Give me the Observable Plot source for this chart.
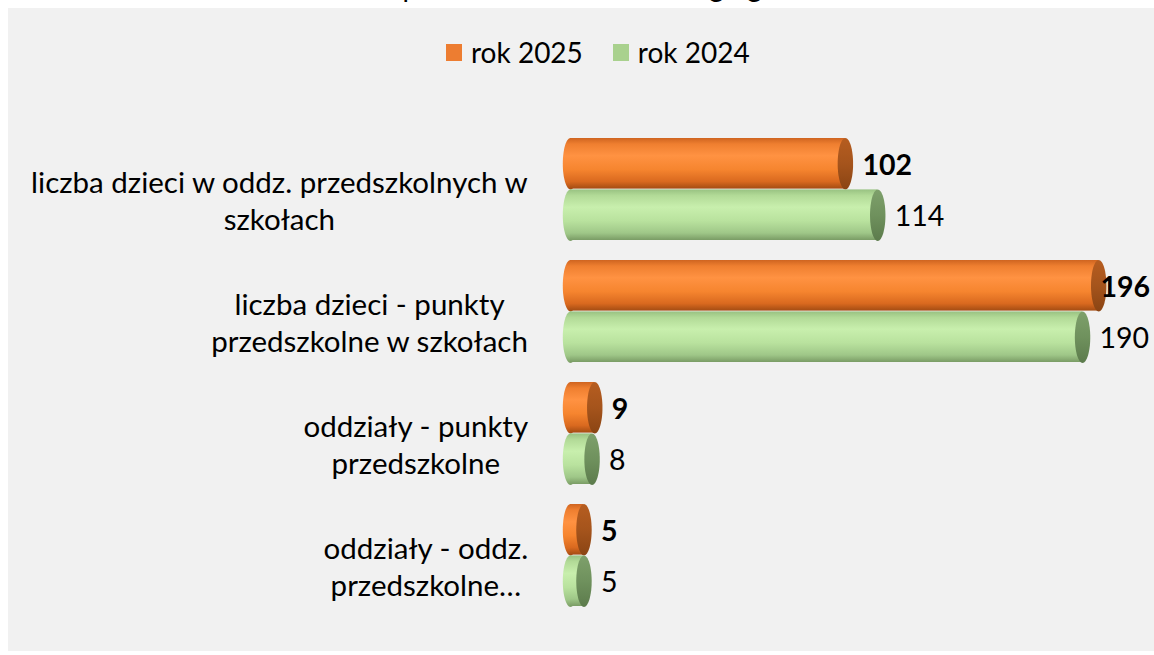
<!DOCTYPE html>
<html><head><meta charset="utf-8">
<script src="https://cdn.jsdelivr.net/npm/d3@7"></script>
<script src="https://cdn.jsdelivr.net/npm/@observablehq/plot@0.6"></script>
<style>
html,body{margin:0;padding:0;background:#fff;width:1154px;height:655px;overflow:hidden;font-family:Lato,sans-serif}
#wrap{position:relative;width:1154px;height:655px;overflow:hidden}
#panel{position:absolute;left:8px;top:8px;width:1146px;height:643px;background:#f1f1f1}
#title{position:absolute;left:0;width:1180px;top:-31px;text-align:center;font-size:28px;color:#000;white-space:nowrap}
#legend{position:absolute;top:35px;left:446px;display:flex;align-items:center;font-size:28px;color:#000}
#legend .sw{display:inline-block;width:16px;height:17px;margin-right:9px}
#legend .it{display:flex;align-items:center;margin-right:30px}
#chart{position:absolute;left:0;top:0}
</style></head>
<body>
<div id="wrap">
  <div id="panel"></div>
  <div id="title">porównanie do roku ubiegłego</div>
  <div id="legend"></div>
  <div id="chart"></div>
</div>
<script>
// ---- data ----
const categories = [
  "liczba dzieci w oddz. przedszkolnych w\nszkołach",
  "liczba dzieci - punkty\nprzedszkolne w szkołach",
  "oddziały - punkty\nprzedszkolne",
  "oddziały - oddz.\nprzedszkolne…"
];
const seriesNames = ["rok 2025", "rok 2024"];
const values2025 = [102, 196, 9, 5];
const values2024 = [114, 190, 8, 5];
const legendColors = ["#ed7d31", "#a9d18e"];

// ---- layout ----
const W = 1154, H = 655, mTop = 137, mBottom = 48, mLeft = 570, mRight = 0;
const xMax = 216.7;
const padInner = 0.16;
const step = (H - mTop - mBottom) / (categories.length - padInner);
const bw = step * (1 - padInner);
const half = bw / 2;
const pxPerUnit = (W - mLeft - mRight) / xMax;
const fontSize = 28.5;
const catFontSize = 29.5;
const font = "Lato, sans-serif";

const rows = [
  categories.map((c, i) => ({cat: c, value: values2025[i]})),
  categories.map((c, i) => ({cat: c, value: values2024[i]}))
];

// legend
const leg = document.getElementById("legend");
seriesNames.forEach((s, i) => {
  const it = document.createElement("div"); it.className = "it";
  const sw = document.createElement("span"); sw.className = "sw"; sw.style.background = legendColors[i];
  const tx = document.createElement("span"); tx.textContent = s;
  it.appendChild(sw); it.appendChild(tx); leg.appendChild(it);
});

// ellipse symbol (cylinder ends)
const ellipse = {
  draw(ctx, size) {
    const r = Math.sqrt(size / Math.PI), ry = r, rx = r * 0.3, k = 0.5522847;
    ctx.moveTo(0, -ry);
    ctx.bezierCurveTo(k * rx, -ry, rx, -k * ry, rx, 0);
    ctx.bezierCurveTo(rx, k * ry, k * rx, ry, 0, ry);
    ctx.bezierCurveTo(-k * rx, ry, -rx, k * ry, -rx, 0);
    ctx.bezierCurveTo(-rx, -k * ry, -k * rx, -ry, 0, -ry);
    ctx.closePath();
  }
};

// text measuring for centered category labels
const cv = document.createElement("canvas").getContext("2d");
cv.font = `${catFontSize}px Lato`;
const blockW = c => Math.max(...c.split("\n").map(l => cv.measureText(l).width));

const labelOffset = 17; // px after value
const labelLimit = xMax - (52 + labelOffset + 2) / pxPerUnit;

const bodyFill = ["url(#gO)", "url(#gG)"];
const capFill = ["url(#cO)", "url(#cG)"];
const marks = [];
rows.forEach((data, s) => {
  const sign = s === 0 ? -1 : 1;
  marks.push(
    Plot.dot(data, {x: () => 0, y: "cat", r: half / 2, symbol: ellipse, fill: bodyFill[s], dy: sign * half / 2}),
    Plot.barX(data, {x1: () => 0, x2: "value", y: "cat", fill: bodyFill[s],
      insetTop: s === 0 ? 0 : half, insetBottom: s === 0 ? half : 0}),
    Plot.dot(data, {x: "value", y: "cat", r: half / 2, symbol: ellipse, fill: capFill[s], dy: sign * half / 2}),
    Plot.text(data, {x: d => Math.min(d.value, labelLimit), y: "cat", text: d => String(d.value),
      dx: labelOffset, dy: sign * half / 2 + 2, textAnchor: "start", fontSize, fontFamily: font,
      fontWeight: s === 0 ? "bold" : "normal", fill: "#000"})
  );
});
categories.forEach(c => {
  marks.push(Plot.text([c], {x: () => 0, y: d => d, text: d => d, textAnchor: "middle",
    dx: -(42 + blockW(c) / 2), dy: 10, lineHeight: 1.27, fontSize: catFontSize, fontFamily: font, fill: "#000"}));
});

const chart = Plot.plot({
  width: W, height: H,
  marginLeft: mLeft, marginRight: mRight, marginTop: mTop, marginBottom: mBottom,
  x: {domain: [0, xMax], axis: null},
  y: {domain: categories, axis: null, paddingInner: padInner, paddingOuter: 0},
  style: {background: "transparent", fontFamily: font, overflow: "visible"},
  marks
});

const defs = d3.select(chart).insert("defs", ":first-child");
function grad(id, stops) {
  const g = defs.append("linearGradient").attr("id", id).attr("x1", 0).attr("y1", 0).attr("x2", 0).attr("y2", 1);
  stops.forEach(([o, c]) => g.append("stop").attr("offset", o).attr("stop-color", c));
}
grad("gO", [[0, "#cf6420"], [0.12, "#ef7f30"], [0.35, "#ff9242"], [0.62, "#f6852f"], [0.86, "#d9691f"], [1, "#a44c13"]]);
grad("gG", [[0, "#98c282"], [0.12, "#b2da97"], [0.35, "#c8efad"], [0.62, "#b9e29e"], [0.86, "#9fc788"], [1, "#7a9c65"]]);
grad("cO", [[0, "#b65d20"], [0.5, "#a5541c"], [1, "#8a4413"]]);
grad("cG", [[0, "#7ea06b"], [0.5, "#6f915d"], [1, "#5c7b4c"]]);

document.getElementById("chart").appendChild(chart);
</script>
</body></html>
